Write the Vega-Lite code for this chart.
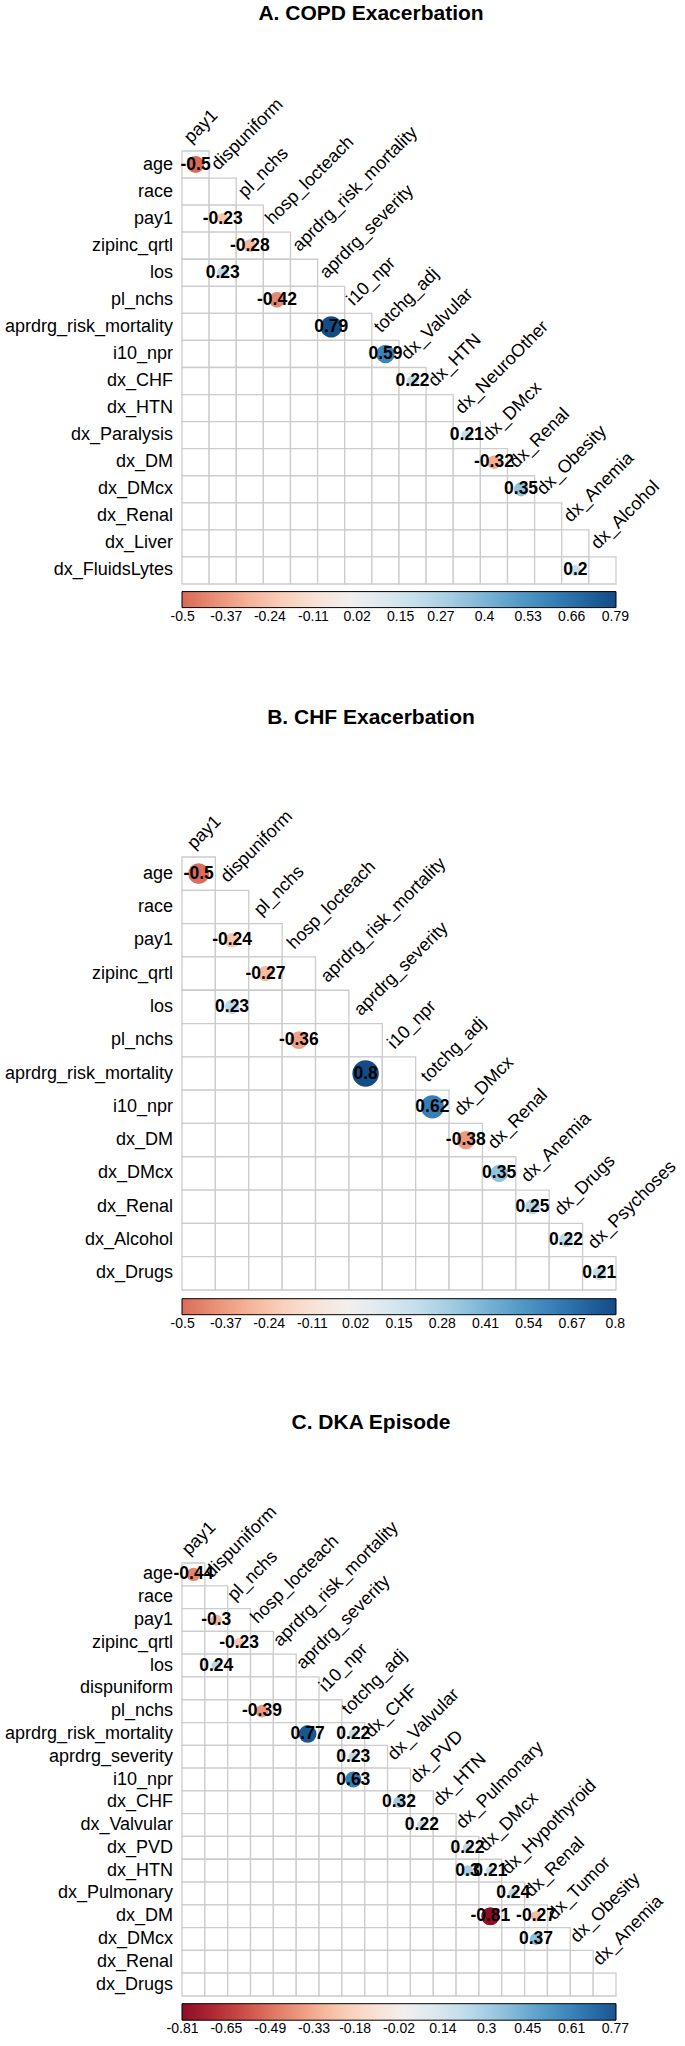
{
  "$schema": "https://vega.github.io/schema/vega-lite/v6.json",
  "background": "white",
  "padding": {"left": 4, "top": 3, "right": 5, "bottom": 2},
  "config": {
    "font": "Liberation Sans",
    "view": {"stroke": null},
    "title": {"font": "Liberation Sans", "fontSize": 21, "fontWeight": "bold", "color": "black", "anchor": "middle", "frame": "group"},
    "axisY": {"domain": false, "ticks": false, "grid": false, "labelPadding": 9.4, "labelFontSize": 18, "labelColor": "black", "labelFont": "Liberation Sans", "labelLimit": 300},
    "legend": {"gradientStrokeColor": "black", "gradientStrokeWidth": 1, "labelFontSize": 14, "labelFont": "Liberation Sans", "labelColor": "black", "labelOverlap": false, "labelOffset": 13, "padding": 0}
  },
  "datasets": {
    "gA": [
      {"row": "age", "diag": "pay1", "cols": ["pay1"]},
      {"row": "race", "diag": "dispuniform", "cols": ["pay1","dispuniform"]},
      {"row": "pay1", "diag": "pl_nchs", "cols": ["pay1","dispuniform","pl_nchs"]},
      {"row": "zipinc_qrtl", "diag": "hosp_locteach", "cols": ["pay1","dispuniform","pl_nchs","hosp_locteach"]},
      {"row": "los", "diag": "aprdrg_risk_mortality", "cols": ["pay1","dispuniform","pl_nchs","hosp_locteach","aprdrg_risk_mortality"]},
      {"row": "pl_nchs", "diag": "aprdrg_severity", "cols": ["pay1","dispuniform","pl_nchs","hosp_locteach","aprdrg_risk_mortality","aprdrg_severity"]},
      {"row": "aprdrg_risk_mortality", "diag": "i10_npr", "cols": ["pay1","dispuniform","pl_nchs","hosp_locteach","aprdrg_risk_mortality","aprdrg_severity","i10_npr"]},
      {"row": "i10_npr", "diag": "totchg_adj", "cols": ["pay1","dispuniform","pl_nchs","hosp_locteach","aprdrg_risk_mortality","aprdrg_severity","i10_npr","totchg_adj"]},
      {"row": "dx_CHF", "diag": "dx_Valvular", "cols": ["pay1","dispuniform","pl_nchs","hosp_locteach","aprdrg_risk_mortality","aprdrg_severity","i10_npr","totchg_adj","dx_Valvular"]},
      {"row": "dx_HTN", "diag": "dx_HTN", "cols": ["pay1","dispuniform","pl_nchs","hosp_locteach","aprdrg_risk_mortality","aprdrg_severity","i10_npr","totchg_adj","dx_Valvular","dx_HTN"]},
      {"row": "dx_Paralysis", "diag": "dx_NeuroOther", "cols": ["pay1","dispuniform","pl_nchs","hosp_locteach","aprdrg_risk_mortality","aprdrg_severity","i10_npr","totchg_adj","dx_Valvular","dx_HTN","dx_NeuroOther"]},
      {"row": "dx_DM", "diag": "dx_DMcx", "cols": ["pay1","dispuniform","pl_nchs","hosp_locteach","aprdrg_risk_mortality","aprdrg_severity","i10_npr","totchg_adj","dx_Valvular","dx_HTN","dx_NeuroOther","dx_DMcx"]},
      {"row": "dx_DMcx", "diag": "dx_Renal", "cols": ["pay1","dispuniform","pl_nchs","hosp_locteach","aprdrg_risk_mortality","aprdrg_severity","i10_npr","totchg_adj","dx_Valvular","dx_HTN","dx_NeuroOther","dx_DMcx","dx_Renal"]},
      {"row": "dx_Renal", "diag": "dx_Obesity", "cols": ["pay1","dispuniform","pl_nchs","hosp_locteach","aprdrg_risk_mortality","aprdrg_severity","i10_npr","totchg_adj","dx_Valvular","dx_HTN","dx_NeuroOther","dx_DMcx","dx_Renal","dx_Obesity"]},
      {"row": "dx_Liver", "diag": "dx_Anemia", "cols": ["pay1","dispuniform","pl_nchs","hosp_locteach","aprdrg_risk_mortality","aprdrg_severity","i10_npr","totchg_adj","dx_Valvular","dx_HTN","dx_NeuroOther","dx_DMcx","dx_Renal","dx_Obesity","dx_Anemia"]},
      {"row": "dx_FluidsLytes", "diag": "dx_Alcohol", "cols": ["pay1","dispuniform","pl_nchs","hosp_locteach","aprdrg_risk_mortality","aprdrg_severity","i10_npr","totchg_adj","dx_Valvular","dx_HTN","dx_NeuroOther","dx_DMcx","dx_Renal","dx_Obesity","dx_Anemia","dx_Alcohol"]}
    ],
    "vA": [
      {"row": "age", "col": "pay1", "r": -0.5},
      {"row": "pay1", "col": "dispuniform", "r": -0.23},
      {"row": "zipinc_qrtl", "col": "pl_nchs", "r": -0.28},
      {"row": "los", "col": "dispuniform", "r": 0.23},
      {"row": "pl_nchs", "col": "hosp_locteach", "r": -0.42},
      {"row": "aprdrg_risk_mortality", "col": "aprdrg_severity", "r": 0.79},
      {"row": "i10_npr", "col": "totchg_adj", "r": 0.59},
      {"row": "dx_CHF", "col": "dx_Valvular", "r": 0.22},
      {"row": "dx_Paralysis", "col": "dx_NeuroOther", "r": 0.21},
      {"row": "dx_DM", "col": "dx_DMcx", "r": -0.32},
      {"row": "dx_DMcx", "col": "dx_Renal", "r": 0.35},
      {"row": "dx_FluidsLytes", "col": "dx_Anemia", "r": 0.2}
    ],
    "gB": [
      {"row": "age", "diag": "pay1", "cols": ["pay1"]},
      {"row": "race", "diag": "dispuniform", "cols": ["pay1","dispuniform"]},
      {"row": "pay1", "diag": "pl_nchs", "cols": ["pay1","dispuniform","pl_nchs"]},
      {"row": "zipinc_qrtl", "diag": "hosp_locteach", "cols": ["pay1","dispuniform","pl_nchs","hosp_locteach"]},
      {"row": "los", "diag": "aprdrg_risk_mortality", "cols": ["pay1","dispuniform","pl_nchs","hosp_locteach","aprdrg_risk_mortality"]},
      {"row": "pl_nchs", "diag": "aprdrg_severity", "cols": ["pay1","dispuniform","pl_nchs","hosp_locteach","aprdrg_risk_mortality","aprdrg_severity"]},
      {"row": "aprdrg_risk_mortality", "diag": "i10_npr", "cols": ["pay1","dispuniform","pl_nchs","hosp_locteach","aprdrg_risk_mortality","aprdrg_severity","i10_npr"]},
      {"row": "i10_npr", "diag": "totchg_adj", "cols": ["pay1","dispuniform","pl_nchs","hosp_locteach","aprdrg_risk_mortality","aprdrg_severity","i10_npr","totchg_adj"]},
      {"row": "dx_DM", "diag": "dx_DMcx", "cols": ["pay1","dispuniform","pl_nchs","hosp_locteach","aprdrg_risk_mortality","aprdrg_severity","i10_npr","totchg_adj","dx_DMcx"]},
      {"row": "dx_DMcx", "diag": "dx_Renal", "cols": ["pay1","dispuniform","pl_nchs","hosp_locteach","aprdrg_risk_mortality","aprdrg_severity","i10_npr","totchg_adj","dx_DMcx","dx_Renal"]},
      {"row": "dx_Renal", "diag": "dx_Anemia", "cols": ["pay1","dispuniform","pl_nchs","hosp_locteach","aprdrg_risk_mortality","aprdrg_severity","i10_npr","totchg_adj","dx_DMcx","dx_Renal","dx_Anemia"]},
      {"row": "dx_Alcohol", "diag": "dx_Drugs", "cols": ["pay1","dispuniform","pl_nchs","hosp_locteach","aprdrg_risk_mortality","aprdrg_severity","i10_npr","totchg_adj","dx_DMcx","dx_Renal","dx_Anemia","dx_Drugs"]},
      {"row": "dx_Drugs", "diag": "dx_Psychoses", "cols": ["pay1","dispuniform","pl_nchs","hosp_locteach","aprdrg_risk_mortality","aprdrg_severity","i10_npr","totchg_adj","dx_DMcx","dx_Renal","dx_Anemia","dx_Drugs","dx_Psychoses"]}
    ],
    "vB": [
      {"row": "age", "col": "pay1", "r": -0.5},
      {"row": "pay1", "col": "dispuniform", "r": -0.24},
      {"row": "zipinc_qrtl", "col": "pl_nchs", "r": -0.27},
      {"row": "los", "col": "dispuniform", "r": 0.23},
      {"row": "pl_nchs", "col": "hosp_locteach", "r": -0.36},
      {"row": "aprdrg_risk_mortality", "col": "aprdrg_severity", "r": 0.8},
      {"row": "i10_npr", "col": "totchg_adj", "r": 0.62},
      {"row": "dx_DM", "col": "dx_DMcx", "r": -0.38},
      {"row": "dx_DMcx", "col": "dx_Renal", "r": 0.35},
      {"row": "dx_Renal", "col": "dx_Anemia", "r": 0.25},
      {"row": "dx_Alcohol", "col": "dx_Drugs", "r": 0.22},
      {"row": "dx_Drugs", "col": "dx_Psychoses", "r": 0.21}
    ],
    "gC": [
      {"row": "age", "diag": "pay1", "cols": ["pay1"]},
      {"row": "race", "diag": "dispuniform", "cols": ["pay1","dispuniform"]},
      {"row": "pay1", "diag": "pl_nchs", "cols": ["pay1","dispuniform","pl_nchs"]},
      {"row": "zipinc_qrtl", "diag": "hosp_locteach", "cols": ["pay1","dispuniform","pl_nchs","hosp_locteach"]},
      {"row": "los", "diag": "aprdrg_risk_mortality", "cols": ["pay1","dispuniform","pl_nchs","hosp_locteach","aprdrg_risk_mortality"]},
      {"row": "dispuniform", "diag": "aprdrg_severity", "cols": ["pay1","dispuniform","pl_nchs","hosp_locteach","aprdrg_risk_mortality","aprdrg_severity"]},
      {"row": "pl_nchs", "diag": "i10_npr", "cols": ["pay1","dispuniform","pl_nchs","hosp_locteach","aprdrg_risk_mortality","aprdrg_severity","i10_npr"]},
      {"row": "aprdrg_risk_mortality", "diag": "totchg_adj", "cols": ["pay1","dispuniform","pl_nchs","hosp_locteach","aprdrg_risk_mortality","aprdrg_severity","i10_npr","totchg_adj"]},
      {"row": "aprdrg_severity", "diag": "dx_CHF", "cols": ["pay1","dispuniform","pl_nchs","hosp_locteach","aprdrg_risk_mortality","aprdrg_severity","i10_npr","totchg_adj","dx_CHF"]},
      {"row": "i10_npr", "diag": "dx_Valvular", "cols": ["pay1","dispuniform","pl_nchs","hosp_locteach","aprdrg_risk_mortality","aprdrg_severity","i10_npr","totchg_adj","dx_CHF","dx_Valvular"]},
      {"row": "dx_CHF", "diag": "dx_PVD", "cols": ["pay1","dispuniform","pl_nchs","hosp_locteach","aprdrg_risk_mortality","aprdrg_severity","i10_npr","totchg_adj","dx_CHF","dx_Valvular","dx_PVD"]},
      {"row": "dx_Valvular", "diag": "dx_HTN", "cols": ["pay1","dispuniform","pl_nchs","hosp_locteach","aprdrg_risk_mortality","aprdrg_severity","i10_npr","totchg_adj","dx_CHF","dx_Valvular","dx_PVD","dx_HTN"]},
      {"row": "dx_PVD", "diag": "dx_Pulmonary", "cols": ["pay1","dispuniform","pl_nchs","hosp_locteach","aprdrg_risk_mortality","aprdrg_severity","i10_npr","totchg_adj","dx_CHF","dx_Valvular","dx_PVD","dx_HTN","dx_Pulmonary"]},
      {"row": "dx_HTN", "diag": "dx_DMcx", "cols": ["pay1","dispuniform","pl_nchs","hosp_locteach","aprdrg_risk_mortality","aprdrg_severity","i10_npr","totchg_adj","dx_CHF","dx_Valvular","dx_PVD","dx_HTN","dx_Pulmonary","dx_DMcx"]},
      {"row": "dx_Pulmonary", "diag": "dx_Hypothyroid", "cols": ["pay1","dispuniform","pl_nchs","hosp_locteach","aprdrg_risk_mortality","aprdrg_severity","i10_npr","totchg_adj","dx_CHF","dx_Valvular","dx_PVD","dx_HTN","dx_Pulmonary","dx_DMcx","dx_Hypothyroid"]},
      {"row": "dx_DM", "diag": "dx_Renal", "cols": ["pay1","dispuniform","pl_nchs","hosp_locteach","aprdrg_risk_mortality","aprdrg_severity","i10_npr","totchg_adj","dx_CHF","dx_Valvular","dx_PVD","dx_HTN","dx_Pulmonary","dx_DMcx","dx_Hypothyroid","dx_Renal"]},
      {"row": "dx_DMcx", "diag": "dx_Tumor", "cols": ["pay1","dispuniform","pl_nchs","hosp_locteach","aprdrg_risk_mortality","aprdrg_severity","i10_npr","totchg_adj","dx_CHF","dx_Valvular","dx_PVD","dx_HTN","dx_Pulmonary","dx_DMcx","dx_Hypothyroid","dx_Renal","dx_Tumor"]},
      {"row": "dx_Renal", "diag": "dx_Obesity", "cols": ["pay1","dispuniform","pl_nchs","hosp_locteach","aprdrg_risk_mortality","aprdrg_severity","i10_npr","totchg_adj","dx_CHF","dx_Valvular","dx_PVD","dx_HTN","dx_Pulmonary","dx_DMcx","dx_Hypothyroid","dx_Renal","dx_Tumor","dx_Obesity"]},
      {"row": "dx_Drugs", "diag": "dx_Anemia", "cols": ["pay1","dispuniform","pl_nchs","hosp_locteach","aprdrg_risk_mortality","aprdrg_severity","i10_npr","totchg_adj","dx_CHF","dx_Valvular","dx_PVD","dx_HTN","dx_Pulmonary","dx_DMcx","dx_Hypothyroid","dx_Renal","dx_Tumor","dx_Obesity","dx_Anemia"]}
    ],
    "vC": [
      {"row": "age", "col": "pay1", "r": -0.44},
      {"row": "pay1", "col": "dispuniform", "r": -0.3},
      {"row": "zipinc_qrtl", "col": "pl_nchs", "r": -0.23},
      {"row": "los", "col": "dispuniform", "r": 0.24},
      {"row": "pl_nchs", "col": "hosp_locteach", "r": -0.39},
      {"row": "aprdrg_risk_mortality", "col": "aprdrg_severity", "r": 0.77},
      {"row": "aprdrg_risk_mortality", "col": "totchg_adj", "r": 0.22},
      {"row": "aprdrg_severity", "col": "totchg_adj", "r": 0.23},
      {"row": "i10_npr", "col": "totchg_adj", "r": 0.63},
      {"row": "dx_CHF", "col": "dx_Valvular", "r": 0.32},
      {"row": "dx_Valvular", "col": "dx_PVD", "r": 0.22},
      {"row": "dx_PVD", "col": "dx_Pulmonary", "r": 0.22},
      {"row": "dx_HTN", "col": "dx_Pulmonary", "r": 0.3},
      {"row": "dx_HTN", "col": "dx_DMcx", "r": 0.21},
      {"row": "dx_Pulmonary", "col": "dx_Hypothyroid", "r": 0.24},
      {"row": "dx_DM", "col": "dx_DMcx", "r": -0.81},
      {"row": "dx_DM", "col": "dx_Renal", "r": -0.27},
      {"row": "dx_DMcx", "col": "dx_Renal", "r": 0.37}
    ]
  },
  "bounds": "flush",
  "spacing": 273,
  "resolve": {"scale": {"color": "independent", "size": "independent", "x": "independent", "y": "independent"}, "legend": {"color": "independent"}},
  "vconcat": [
    {
      "title": {"text": "A. COPD Exacerbation", "offset": 71, "dx": -28},
      "width": 434, "height": 433,
      "layer": [
        {
          "data": {"name": "gA"},
          "transform": [{"flatten": ["cols"], "as": ["col"]}],
          "mark": {"type": "rect", "fill": "white", "stroke": "#cccccc", "strokeWidth": 1.3},
          "encoding": {
            "x": {"field": "col", "type": "nominal", "axis": null, "scale": {"paddingInner": 0, "paddingOuter": 0, "domain": ["pay1","dispuniform","pl_nchs","hosp_locteach","aprdrg_risk_mortality","aprdrg_severity","i10_npr","totchg_adj","dx_Valvular","dx_HTN","dx_NeuroOther","dx_DMcx","dx_Renal","dx_Obesity","dx_Anemia","dx_Alcohol"]}},
            "y": {"field": "row", "type": "nominal", "axis": {"title": null}, "scale": {"paddingInner": 0, "paddingOuter": 0, "domain": ["age","race","pay1","zipinc_qrtl","los","pl_nchs","aprdrg_risk_mortality","i10_npr","dx_CHF","dx_HTN","dx_Paralysis","dx_DM","dx_DMcx","dx_Renal","dx_Liver","dx_FluidsLytes"]}}
          }
        },
        {
          "data": {"name": "vA"},
          "transform": [{"calculate": "abs(datum.r)", "as": "a"}],
          "mark": {"type": "circle", "opacity": 1, "strokeWidth": 0},
          "encoding": {
            "x": {"field": "col", "type": "nominal"},
            "y": {"field": "row", "type": "nominal"},
            "color": {"field": "r", "type": "quantitative", "scale": {"domain": [-0.502, 0.792], "scheme": {"name": "redblue", "extent": [0.1831, 1]}},
              "legend": {"title": null, "orient": "none", "direction": "horizontal", "legendX": 0, "legendY": 440.6, "gradientLength": 434, "gradientThickness": 16, "values": [-0.5,-0.37,-0.24,-0.11,0.02,0.15,0.27,0.4,0.53,0.66,0.79], "labelExpr": "'' + datum.value", "encode": {"labels": {"update": {"align": {"value": "center"}}}}}},
            "size": {"field": "a", "type": "quantitative", "scale": {"domain": [0, 1], "range": [0, 577]}, "legend": null}
          }
        },
        {
          "data": {"name": "vA"},
          "mark": {"type": "text", "fontWeight": "bold", "fontSize": 17.5, "color": "black"},
          "encoding": {
            "x": {"field": "col", "type": "nominal"},
            "y": {"field": "row", "type": "nominal"},
            "text": {"field": "r", "type": "nominal"}
          }
        },
        {
          "data": {"name": "gA"},
          "mark": {"type": "text", "angle": 315, "align": "left", "baseline": "alphabetic", "fontSize": 18, "color": "black", "xOffset": -4.5, "yOffset": -20.5},
          "encoding": {
            "x": {"field": "diag", "type": "nominal"},
            "y": {"field": "row", "type": "nominal"},
            "text": {"field": "diag", "type": "nominal"}
          }
        }
      ]
    },
    {
      "title": {"text": "B. CHF Exacerbation", "offset": 80, "dx": -28},
      "width": 434, "height": 433,
      "layer": [
        {
          "data": {"name": "gB"},
          "transform": [{"flatten": ["cols"], "as": ["col"]}],
          "mark": {"type": "rect", "fill": "white", "stroke": "#cccccc", "strokeWidth": 1.3},
          "encoding": {
            "x": {"field": "col", "type": "nominal", "axis": null, "scale": {"paddingInner": 0, "paddingOuter": 0, "domain": ["pay1","dispuniform","pl_nchs","hosp_locteach","aprdrg_risk_mortality","aprdrg_severity","i10_npr","totchg_adj","dx_DMcx","dx_Renal","dx_Anemia","dx_Drugs","dx_Psychoses"]}},
            "y": {"field": "row", "type": "nominal", "axis": {"title": null}, "scale": {"paddingInner": 0, "paddingOuter": 0, "domain": ["age","race","pay1","zipinc_qrtl","los","pl_nchs","aprdrg_risk_mortality","i10_npr","dx_DM","dx_DMcx","dx_Renal","dx_Alcohol","dx_Drugs"]}}
          }
        },
        {
          "data": {"name": "vB"},
          "transform": [{"calculate": "abs(datum.r)", "as": "a"}],
          "mark": {"type": "circle", "opacity": 1, "strokeWidth": 0},
          "encoding": {
            "x": {"field": "col", "type": "nominal"},
            "y": {"field": "row", "type": "nominal"},
            "color": {"field": "r", "type": "quantitative", "scale": {"domain": [-0.502, 0.802], "scheme": {"name": "redblue", "extent": [0.187, 1]}},
              "legend": {"title": null, "orient": "none", "direction": "horizontal", "legendX": 0, "legendY": 441.7, "gradientLength": 434, "gradientThickness": 16, "values": [-0.5,-0.37,-0.24,-0.11,0.02,0.15,0.28,0.41,0.54,0.67,0.8], "labelExpr": "'' + datum.value", "encode": {"labels": {"update": {"align": {"value": "center"}}}}}},
            "size": {"field": "a", "type": "quantitative", "scale": {"domain": [0, 1], "range": [0, 876]}, "legend": null}
          }
        },
        {
          "data": {"name": "vB"},
          "mark": {"type": "text", "fontWeight": "bold", "fontSize": 17.5, "color": "black"},
          "encoding": {
            "x": {"field": "col", "type": "nominal"},
            "y": {"field": "row", "type": "nominal"},
            "text": {"field": "r", "type": "nominal"}
          }
        },
        {
          "data": {"name": "gB"},
          "mark": {"type": "text", "angle": 315, "align": "left", "baseline": "alphabetic", "fontSize": 18, "color": "black", "xOffset": -4.5, "yOffset": -23.7},
          "encoding": {
            "x": {"field": "diag", "type": "nominal"},
            "y": {"field": "row", "type": "nominal"},
            "text": {"field": "diag", "type": "nominal"}
          }
        }
      ]
    },
    {
      "title": {"text": "C. DKA Episode", "offset": 70, "dx": -28},
      "width": 434, "height": 433,
      "layer": [
        {
          "data": {"name": "gC"},
          "transform": [{"flatten": ["cols"], "as": ["col"]}],
          "mark": {"type": "rect", "fill": "white", "stroke": "#cccccc", "strokeWidth": 1.3},
          "encoding": {
            "x": {"field": "col", "type": "nominal", "axis": null, "scale": {"paddingInner": 0, "paddingOuter": 0, "domain": ["pay1","dispuniform","pl_nchs","hosp_locteach","aprdrg_risk_mortality","aprdrg_severity","i10_npr","totchg_adj","dx_CHF","dx_Valvular","dx_PVD","dx_HTN","dx_Pulmonary","dx_DMcx","dx_Hypothyroid","dx_Renal","dx_Tumor","dx_Obesity","dx_Anemia"]}},
            "y": {"field": "row", "type": "nominal", "axis": {"title": null}, "scale": {"paddingInner": 0, "paddingOuter": 0, "domain": ["age","race","pay1","zipinc_qrtl","los","dispuniform","pl_nchs","aprdrg_risk_mortality","aprdrg_severity","i10_npr","dx_CHF","dx_Valvular","dx_PVD","dx_HTN","dx_Pulmonary","dx_DM","dx_DMcx","dx_Renal","dx_Drugs"]}}
          }
        },
        {
          "data": {"name": "vC"},
          "transform": [{"calculate": "abs(datum.r)", "as": "a"}],
          "mark": {"type": "circle", "opacity": 1, "strokeWidth": 0},
          "encoding": {
            "x": {"field": "col", "type": "nominal"},
            "y": {"field": "row", "type": "nominal"},
            "color": {"field": "r", "type": "quantitative", "scale": {"domain": [-0.812, 0.772], "scheme": {"name": "redblue", "extent": [0, 0.9754]}},
              "legend": {"title": null, "orient": "none", "direction": "horizontal", "legendX": 0, "legendY": 440.7, "gradientLength": 434, "gradientThickness": 16.5, "values": [-0.81,-0.65,-0.49,-0.33,-0.18,-0.02,0.14,0.3,0.45,0.61,0.77], "labelExpr": "'' + datum.value", "encode": {"labels": {"update": {"align": {"value": "center"}}}}}},
            "size": {"field": "a", "type": "quantitative", "scale": {"domain": [0, 1], "range": [0, 408]}, "legend": null}
          }
        },
        {
          "data": {"name": "vC"},
          "mark": {"type": "text", "fontWeight": "bold", "fontSize": 17.5, "color": "black"},
          "encoding": {
            "x": {"field": "col", "type": "nominal"},
            "y": {"field": "row", "type": "nominal"},
            "text": {"field": "r", "type": "nominal"}
          }
        },
        {
          "data": {"name": "gC"},
          "mark": {"type": "text", "angle": 315, "align": "left", "baseline": "alphabetic", "fontSize": 18, "color": "black", "xOffset": -4.5, "yOffset": -18.4},
          "encoding": {
            "x": {"field": "diag", "type": "nominal"},
            "y": {"field": "row", "type": "nominal"},
            "text": {"field": "diag", "type": "nominal"}
          }
        }
      ]
    }
  ]
}
